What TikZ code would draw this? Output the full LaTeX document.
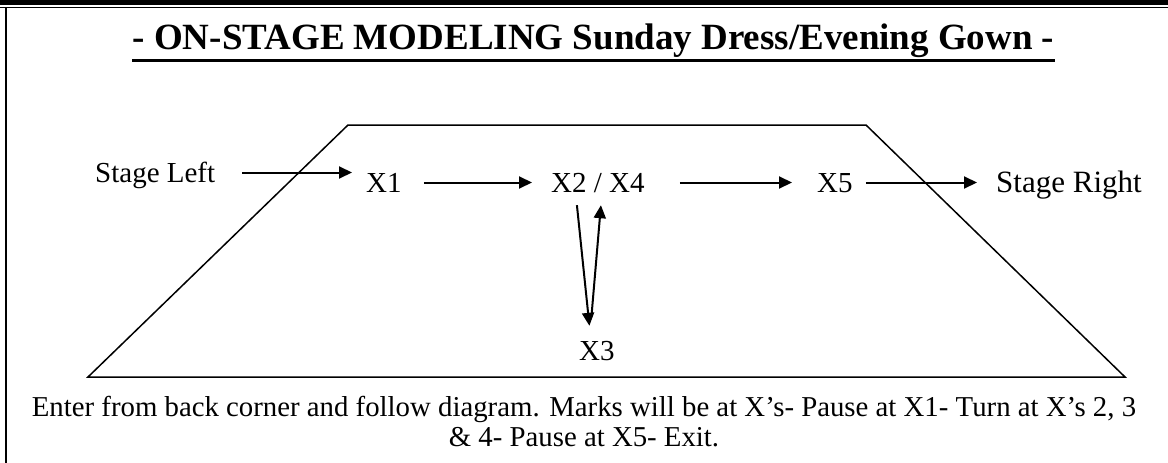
\documentclass[tikz,border=0pt]{standalone}
\usepackage{fontspec}
\setmainfont{Liberation Serif}
\usetikzlibrary{arrows.meta}
\begin{document}
\begin{tikzpicture}[x=1pt,y=-1pt,
  lbl/.style={font=\fontsize{29}{34}\selectfont, inner sep=0pt, anchor=base west, text height=19pt, text depth=0pt},
  arr/.style={line width=2pt, -{Triangle[length=13pt,width=12pt]}},
  stage/.style={line width=1.5pt, line join=miter}]
\useasboundingbox (0,0) rectangle (1168,463);
% frame
\fill (0,0) rectangle (1168,5);
\draw[line width=1.2pt] (0,7.5) -- (1168,7.5);
\draw[line width=2.2pt] (6,7.5) -- (6,463);
% title
\node[font=\bfseries\fontsize{37}{42}\selectfont, inner sep=0pt, anchor=base] (title) at (593.5,49) {- ON-STAGE MODELING Sunday Dress/Evening Gown -};
\draw[line width=3pt] ([yshift=-11pt]title.base west) -- ([yshift=-11pt]title.base east);
% stage
\draw[stage] (348,125) -- (866,125) -- (1125,377) -- (88,377) -- cycle;
% labels
\node[lbl] (sl) at (95,182) {Stage Left};
\node[lbl] (x1) at (366,192) {X1};
\node[lbl] (x2) at (551,192) {X2 / X4};
\node[lbl] (x5) at (817,192) {X5};
\node[lbl, font=\fontsize{31}{34}\selectfont] (sr) at (996,192) {Stage Right};
\node[lbl] (x3) at (579,360) {X3};
% arrows
\draw[arr] ([xshift=27pt]sl.east) -- ([xshift=-14pt]x1.west |- sl.east);
\draw[arr] ([xshift=22pt]x1.east) -- ([xshift=-19pt]x2.west);
\draw[arr] ([xshift=35pt]x2.east) -- ([xshift=-25pt]x5.west);
\draw[arr] ([xshift=13pt]x5.east) -- ([xshift=-19pt]sr.west |- x5.east);
\draw[arr] ([shift={(-21,13)}]x2.south) -- ([shift={(-7.5,-15)}]x3.north);
\draw[arr] ([shift={(-5.5,-24)}]x3.north) -- ([shift={(3,13)}]x2.south);
% note
\node[font=\fontsize{28.8}{30}\selectfont, inner sep=0pt, align=center, anchor=north] (note) at (584,396)
  {Enter from back corner and follow diagram. Marks will be at X’s- Pause at X1- Turn at X’s 2, 3\\ \& 4- Pause at X5- Exit.};
\end{tikzpicture}
\end{document}
